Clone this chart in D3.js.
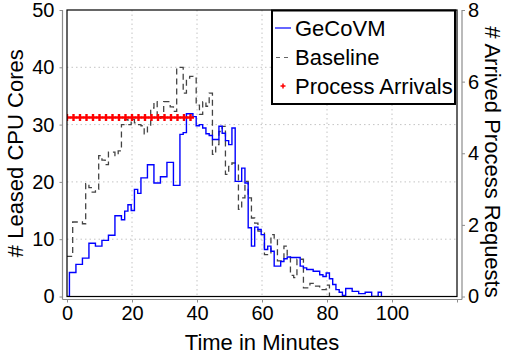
<!DOCTYPE html>
<html>
<head>
<meta charset="utf-8">
<script src="https://cdn.jsdelivr.net/npm/d3@7"></script>
<style>
  body { margin: 0; background: #fff; }
  text { font-family: "Liberation Sans", Arial, sans-serif; fill: #000; }
</style>
</head>
<body>
<div id="chart"></div>
<script>
// step start times (minutes), one per sample
const gecoTimes = d3.range(-0.25, 97, 1);
const baseTimes = d3.range(-0.25, 81, 1);

// leased CPU cores, GeCoVM
const gecoVM = [
	0,
	4.2, 4.2, 5.6, 5.6, 6.7, 6.7, 9.3, 9.3, 8.8, 8.8,
	9.8, 9.8, 10.7, 10.7, 14.1, 14.1, 13.4, 14.9, 16, 15,
	18.7, 18, 20.7, 20.7, 23, 23, 19.8, 19.8, 20.9, 20.9,
	23.4, 23.4, 19.4, 19.4, 28.3, 28.6, 31.9, 31.9, 31.4, 29.8,
	30, 29.4, 28.4, 28.1, 27.4, 27.4, 29.7, 28.5, 27.2, 26.5,
	29.4, 20.1, 20.1, 22.4, 19.8, 12.0, 8.8, 12.1, 11.7, 10.8,
	8.2, 8.8, 7.9, 5.3, 5.3, 6.1, 6.6, 6.9, 6.8, 6.8,
	6.8, 5.3, 5.0, 4.7, 4.7, 4.4, 4.4, 3.8, 3.5, 4.1,
	3.1, 2.1, 1.2, 0.75, 0.2, 1.4, 1.4, 0.9, 0.9, 0.5,
	0.5, 0.75, 0.75, 0, 0, 0.75, 0
];

// leased CPU cores, Baseline
const baseline = [
	7,
	7, 13, 13, 13, 12.7, 19.7, 19, 18.2, 18.7, 24.6,
	23.8, 23, 25.2, 25.2, 24.6, 25.4, 30, 30.9, 30, 30.9,
	30.3, 30, 29.8, 28.4, 29.7, 32.9, 34, 31.1, 31.4, 34,
	34, 33.1, 32.3, 40, 40, 35.5, 38.1, 38.4, 38.1, 33.4,
	31.8, 34, 33.2, 35.5, 24.8, 26.5, 28.8, 29.7, 21.3, 22.7,
	23.3, 23.3, 15.2, 17.2, 20.1, 17.2, 13.7, 12.8, 11.4, 11.4,
	7.3, 7.3, 10.8, 10.2, 6.2, 6.2, 8.8, 7.0, 3.7, 3.3,
	6.5, 6.5, 1.5, 1.5, 2.3, 1.8, 1.8, 1.2, 1.2, 2.0,
	0
];

// arrived process requests
const arrivalMinutes = [0, 2, 4, 6, 8, 10, 12, 14, 16, 18, 20, 22, 24, 26, 28, 30, 32, 34, 36, 38];
const arrivalCounts = [5, 5, 5, 5, 5, 5, 5, 5, 5, 5, 5, 5, 5, 5, 5, 5, 5, 5, 5, 5];

const xTicks = [0, 20, 40, 60, 80, 100];
const leftTicks = [0, 10, 20, 30, 40, 50];
const rightTicks = [0, 2, 4, 6, 8];
const legendNames = ['GeCoVM', 'Baseline', 'Process Arrivals'];

const width = 507;
const height = 362;
const plot = { left: 67, right: 457, top: 10, bottom: 296.5 };
const gap = { left: 4.5, right: 5, bottom: 3 };
const axisColor = '#8c8c8c';

const svg = d3
	.select('#chart')
	.append('svg')
	.attr('width', width)
	.attr('height', height);

const xScale = d3.scaleLinear().domain([0, 120]).range([plot.left, plot.right]);
const yLeft = d3.scaleLinear().domain([0, 50]).range([plot.bottom, plot.top]);
const yRight = d3.scaleLinear().domain([0, 8]).range([plot.bottom, plot.top]);

// grid
const grid = svg.append('g').attr('stroke', '#c4c4c4').attr('stroke-dasharray', '1.5,3').attr('stroke-width', 1);
grid
	.selectAll('.vgrid')
	.data(xTicks.filter((d) => d > 0))
	.enter()
	.append('line')
	.attr('x1', (d) => xScale(d))
	.attr('x2', (d) => xScale(d))
	.attr('y1', plot.top)
	.attr('y2', plot.bottom);
grid
	.selectAll('.hgrid')
	.data(leftTicks.filter((d) => d > 0 && d < 50))
	.enter()
	.append('line')
	.attr('x1', plot.left)
	.attr('x2', plot.right)
	.attr('y1', (d) => yLeft(d))
	.attr('y2', (d) => yLeft(d));

// axes, offset a little outside the frame
const styleAxis = (g) => {
	g.select('.domain').remove();
	g.selectAll('.tick line').attr('stroke', axisColor);
	g.selectAll('.tick text')
		.style('font-size', '20px')
		.style('font-family', '"Liberation Sans", Arial, sans-serif')
		.attr('fill', '#000');
};

svg
	.append('g')
	.attr('transform', `translate(0,${plot.bottom + gap.bottom})`)
	.call(d3.axisBottom(xScale).tickValues(xTicks.concat([120])).tickFormat((d) => (d === 120 ? '' : d)).tickSize(3).tickPadding(3))
	.call(styleAxis);

svg
	.append('g')
	.attr('transform', `translate(${plot.left - gap.left},0)`)
	.call(d3.axisLeft(yLeft).tickValues(leftTicks).tickSize(3).tickPadding(5))
	.call(styleAxis);

svg
	.append('g')
	.attr('transform', `translate(${plot.right + gap.right},0)`)
	.call(d3.axisRight(yRight).tickValues(rightTicks).tickSize(3).tickPadding(3))
	.call(styleAxis);

const axisLines = svg.append('g').attr('stroke', axisColor).attr('stroke-width', 1.2);
axisLines
	.append('line')
	.attr('x1', plot.left - gap.left)
	.attr('x2', plot.right + gap.right)
	.attr('y1', plot.bottom + gap.bottom)
	.attr('y2', plot.bottom + gap.bottom);
axisLines
	.append('line')
	.attr('x1', plot.left - gap.left)
	.attr('x2', plot.left - gap.left)
	.attr('y1', plot.top)
	.attr('y2', plot.bottom + gap.bottom);
axisLines
	.append('line')
	.attr('x1', plot.right + gap.right)
	.attr('x2', plot.right + gap.right)
	.attr('y1', plot.top)
	.attr('y2', plot.bottom + gap.bottom);

// series
svg
	.append('clipPath')
	.attr('id', 'clip')
	.append('rect')
	.attr('x', plot.left)
	.attr('y', plot.top)
	.attr('width', plot.right - plot.left)
	.attr('height', plot.bottom - plot.top);

const series = svg.append('g').attr('clip-path', 'url(#clip)');

const stepLine = (times, scale) =>
	d3
		.line()
		.x((d, i) => xScale(times[i]))
		.y((d) => scale(d))
		.curve(d3.curveStepAfter);

series
	.append('path')
	.datum(baseline)
	.attr('fill', 'none')
	.attr('stroke', '#444')
	.attr('stroke-width', 1.3)
	.attr('stroke-dasharray', '6,4')
	.attr('d', stepLine(baseTimes, yLeft));

series
	.append('path')
	.datum(gecoVM)
	.attr('fill', 'none')
	.attr('stroke', '#0000ff')
	.attr('stroke-width', 1.4)
	.attr('d', stepLine(gecoTimes, yLeft));

const plusPath = (size) => `M${-size},0H${size}M0,${-size}V${size}`;

series
	.selectAll('.arrival')
	.data(arrivalMinutes)
	.enter()
	.append('path')
	.attr('class', 'arrival')
	.attr('transform', (d, i) => `translate(${xScale(d)},${yRight(arrivalCounts[i])})`)
	.attr('d', plusPath(3.5))
	.attr('stroke', '#ff0000')
	.attr('stroke-width', 2.4)
	.attr('fill', 'none');

// frame
svg
	.append('rect')
	.attr('x', plot.left)
	.attr('y', plot.top)
	.attr('width', plot.right - plot.left)
	.attr('height', plot.bottom - plot.top)
	.attr('fill', 'none')
	.attr('stroke', '#000')
	.attr('stroke-width', 1.2);

// titles
svg
	.append('text')
	.attr('x', (plot.left + plot.right) / 2)
	.attr('y', 350)
	.attr('text-anchor', 'middle')
	.style('font-size', '22px')
	.text('Time in Minutes');

svg
	.append('text')
	.attr('transform', `translate(23,${(plot.top + plot.bottom) / 2}) rotate(-90)`)
	.attr('text-anchor', 'middle')
	.style('font-size', '22px')
	.text('# Leased CPU Cores');

svg
	.append('text')
	.attr('transform', `translate(485,162) rotate(90)`)
	.attr('text-anchor', 'middle')
	.style('font-size', '22px')
	.text('# Arrived Process Requests');

// legend
const legend = svg.append('g');
legend
	.append('rect')
	.attr('x', 272)
	.attr('y', 10.5)
	.attr('width', 183)
	.attr('height', 93.5)
	.attr('fill', '#fff')
	.attr('stroke', '#000')
	.attr('stroke-width', 2);

const rowY = [28, 57.5, 86];
legend
	.append('line')
	.attr('x1', 275)
	.attr('x2', 291)
	.attr('y1', rowY[0])
	.attr('y2', rowY[0])
	.attr('stroke', '#0000ff')
	.attr('stroke-width', 1.2);
legend
	.append('line')
	.attr('x1', 276)
	.attr('x2', 292)
	.attr('y1', rowY[1])
	.attr('y2', rowY[1])
	.attr('stroke', '#666')
	.attr('stroke-width', 1.2)
	.attr('stroke-dasharray', '4,4');
legend
	.append('path')
	.attr('transform', `translate(283,${rowY[2]})`)
	.attr('d', plusPath(2.5))
	.attr('stroke', '#ff0000')
	.attr('stroke-width', 1.5);

legend
	.selectAll('.legend-label')
	.data(legendNames)
	.enter()
	.append('text')
	.attr('class', 'legend-label')
	.attr('x', 295)
	.attr('y', (d, i) => rowY[i])
	.attr('dy', '0.36em')
	.style('font-size', '22px')
	.text((d) => d);
</script>
</body>
</html>
